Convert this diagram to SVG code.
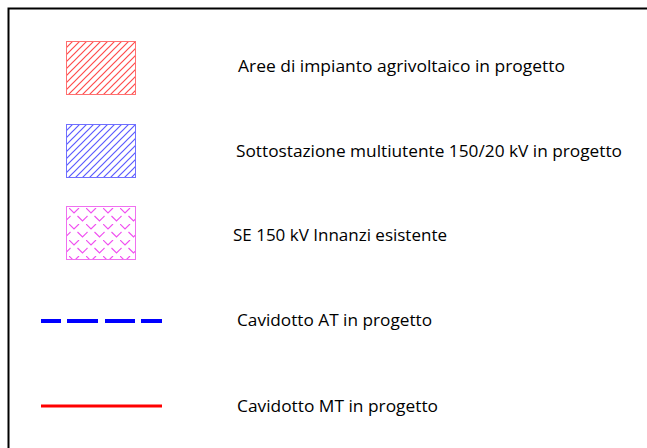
<svg xmlns="http://www.w3.org/2000/svg" width="647" height="448" viewBox="0 0 647 448">
<defs>
<pattern id="hr" patternUnits="userSpaceOnUse" width="7" height="7" patternTransform="translate(66,41)">
<path d="M-1,8 L8,-1 M-1,1 L1,-1 M6,8 L8,6" stroke="#ff4a4a" stroke-width="1.2"/>
</pattern>
<pattern id="hb" patternUnits="userSpaceOnUse" width="7" height="7" patternTransform="translate(66,124)">
<path d="M-1,8 L8,-1 M-1,1 L1,-1 M6,8 L8,6" stroke="#5a5aff" stroke-width="1.2"/>
</pattern>
<pattern id="hv" patternUnits="userSpaceOnUse" width="17" height="16" patternTransform="translate(69,208)">
<path d="M0,0 L5,5 L10,0 M8.5,8 L13.5,13 L18.5,8 M-8.5,8 L-3.5,13 L1.5,8" stroke="#f050f0" stroke-width="1.2" fill="none"/>
</pattern>
<style>
text{font-family:"Open Sans","Liberation Sans",sans-serif;font-size:17px;fill:#000}
.box{stroke-width:1}
</style>
</defs>
<g id="frame">
<path d="M8.5,448 L8.5,8.5 L647,8.5" fill="none" stroke="#000" stroke-width="2"/>
</g>
<g id="legend-aree">
<rect class="box" x="66.5" y="41.5" width="69" height="53" fill="url(#hr)" stroke="#ff7070"/>
<text x="238" y="72" textLength="327" lengthAdjust="spacingAndGlyphs">Aree di impianto agrivoltaico in progetto</text>
</g>
<g id="legend-sottostazione">
<rect class="box" x="66.5" y="124.5" width="69" height="53" fill="url(#hb)" stroke="#7070ff"/>
<text x="236" y="157" textLength="386" lengthAdjust="spacingAndGlyphs">Sottostazione multiutente 150/20 kV in progetto</text>
</g>
<g id="legend-se">
<rect class="box" x="66.5" y="206.5" width="69" height="53" fill="url(#hv)" stroke="#f070f0"/>
<text x="233" y="241" textLength="214" lengthAdjust="spacingAndGlyphs">SE 150 kV Innanzi esistente</text>
</g>
<g id="connectors">
<g id="legend-at">
<line x1="41" y1="321" x2="162" y2="321" stroke="#0000ff" stroke-width="4" stroke-dasharray="20,6,31,7,30,6,21"/>
<text x="237" y="326" textLength="195" lengthAdjust="spacingAndGlyphs">Cavidotto AT in progetto</text>
</g>
<g id="legend-mt">
<line x1="41" y1="406" x2="162" y2="406" stroke="#ff0000" stroke-width="3"/>
<text x="237" y="412" textLength="201" lengthAdjust="spacingAndGlyphs">Cavidotto MT in progetto</text>
</g>
</g>
</svg>
